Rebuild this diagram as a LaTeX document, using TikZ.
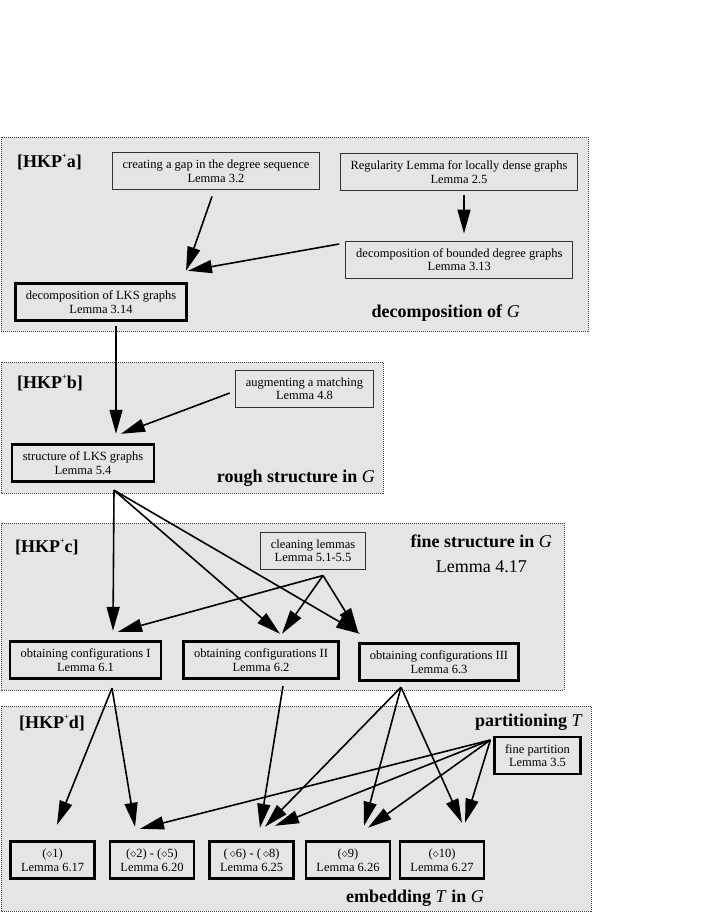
\documentclass[tikz,border=0pt]{standalone}
\usepackage{fontspec}
\setmainfont{Liberation Serif}
\usetikzlibrary{arrows.meta}

\newcommand{\boxfont}{\fontsize{12.5}{13.5}\selectfont}
\newcommand{\titlefont}{\fontsize{18}{20}\selectfont\bfseries}
\newcommand{\hkp}[1]{[HKP\raisebox{0.5em}{\fontsize{8}{8}\selectfont +}#1]}
\newcommand{\dia}[1]{($\diamond$#1)}

\tikzset{
	panel/.style={draw=black!75, fill=gray!20, line width=0.8pt, dash pattern=on 1pt off 1pt},
	thinbox/.style={draw=black!80, fill=gray!20, line width=1pt, align=center, minimum height=37pt, inner xsep=10.5pt, inner ysep=2pt, font=\boxfont},
	thickbox/.style={thinbox, draw=black, line width=2.4pt},
	title/.style={inner sep=0pt, font=\titlefont},
	arr/.style={line width=1.6pt, -{Triangle[length=24pt 0, width=13pt 0]}},
}

\begin{document}
\begin{tikzpicture}[x=1pt, y=-1pt]
			\useasboundingbox (0,0) rectangle (706,913);
			
			\draw[panel] (1,137) rectangle (588,331);
			\draw[panel] (1,362) rectangle (383,493);
			\draw[panel] (1,523) rectangle (564,690);
			\draw[panel] (1,706) rectangle (591,911);
			
			\node[title, anchor=base west] (ta) at (17,167) {\hkp{a}};
			\node[title, anchor=base east] (decG) at (520,317) {decomposition of \textnormal{\itshape G}};
			\node[title, anchor=base west] (tb) at (17,388) {\hkp{b}};
			\node[title, anchor=base east] (roughG) at (375,482) {rough structure in \textnormal{\itshape G}};
			\node[title, anchor=base west] (tc) at (15,552) {\hkp{c}};
			\node[title, anchor=base east] (fineG) at (552,547) {fine structure in \textnormal{\itshape G}};
			\node[inner sep=0pt, anchor=base east, font=\fontsize{18}{20}\selectfont] (l417) at (527,572) {Lemma 4.17};
			\node[title, anchor=base west] (td) at (19,728) {\hkp{d}};
			\node[title, anchor=base east] (partT) at (583,726) {partitioning \textnormal{\itshape T}};
			\node[title, anchor=base east] (embT) at (484,902) {embedding \textnormal{\itshape T} in \textnormal{\itshape G}};
			
			\node[thinbox] (gap) at (216,171) {creating a gap in the degree sequence\\Lemma 3.2};
			\node[thinbox] (regular) at (459,172) {Regularity Lemma for locally dense graphs\\Lemma 2.5};
			\node[thinbox] (bounded) at (459.3,259.5) {decomposition of bounded degree graphs\\Lemma 3.13};
			\node[thickbox] (lks) at (101,302) {decomposition of LKS graphs\\Lemma 3.14};
			
			\node[thinbox] (augment) at (304.5,388.5) {augmenting a matching\\Lemma 4.8};
			\node[thickbox] (structure) at (83,463) {structure of LKS graphs\\Lemma 5.4};
			
			\node[thinbox] (cleaning) at (313,550.5) {cleaning lemmas\\Lemma 5.1-5.5};
			\node[thickbox] (conf1) at (85.5,660) {obtaining configurations I\\Lemma 6.1};
			\node[thickbox] (conf2) at (261,660) {obtaining configurations II\\Lemma 6.2};
			\node[thickbox] (conf3) at (439,662) {obtaining configurations III\\Lemma 6.3};
			
			\node[thickbox] (fine) at (537.5,755.5) {fine partition\\Lemma 3.5};
			\node[thickbox] (d1) at (52.6,860) {\dia{1}\\Lemma 6.17};
			\node[thickbox] (d2) at (152,860) {\dia{2} - \dia{5}\\Lemma 6.20};
			\node[thickbox] (d6) at (251.6,860) {(\,$\diamond$6) - (\,$\diamond$8)\\Lemma 6.25};
			\node[thickbox] (d9) at (348,860) {\dia{9}\\Lemma 6.26};
			\node[thickbox] (d10) at (442,860) {\dia{10}\\Lemma 6.27};
			
			\draw[arr] ([shift={(-4,6.5)}]gap.south) to ([shift={(85,-11.5)}]lks.north);
			\draw[arr] ([shift={(5,3.5)}]regular.south) to ([shift={(4.7,-7)}]bounded.north);
			\draw[arr] ([shift={(-6,-15.5)}]bounded.west) to ([shift={(87,-11.5)}]lks.north);
			
			\draw[arr] ([shift={(15,4.5)}]lks.south) to ([shift={(33,-9.5)}]structure.north);
			\draw[arr] ([shift={(-5,4.5)}]augment.west) to ([shift={(38,-9.5)}]structure.north);
			
			\draw[arr] ([shift={(31,7.5)}]structure.south) to ([shift={(27.5,-9.5)}]conf1.north);
			\draw[arr] ([shift={(31,7.5)}]structure.south) to ([shift={(19,-6.5)}]conf2.north);
			\draw[arr] ([shift={(31,7.5)}]structure.south) to ([shift={(-79,-8.5)}]conf3.north);
			\draw[arr] ([shift={(10,6)}]cleaning.south) to ([shift={(32.5,-8.5)}]conf1.north);
			\draw[arr] ([shift={(10,6)}]cleaning.south) to ([shift={(21,-6.5)}]conf2.north);
			\draw[arr] ([shift={(10,6)}]cleaning.south) to ([shift={(-81,-10.5)}]conf3.north);
			
			\draw[arr] ([shift={(26.5,8.5)}]conf1.south) to ([shift={(4.4,-15.5)}]d1.north);
			\draw[arr] ([shift={(26.5,8.5)}]conf1.south) to ([shift={(-17,-13.5)}]d2.north);
			\draw[arr] ([shift={(22,6.5)}]conf2.south) to ([shift={(8.4,-12.5)}]d6.north);
			\draw[arr] ([shift={(-38,5.5)}]conf3.south) to ([shift={(13.4,-13.5)}]d6.north);
			\draw[arr] ([shift={(-38,5.5)}]conf3.south) to ([shift={(16,-14.5)}]d9.north);
			\draw[arr] ([shift={(-38,5.5)}]conf3.south) to ([shift={(20,-17.5)}]d10.north);
			\draw[arr] ([shift={(-3,-15.5)}]fine.west) to ([shift={(-12,-11.5)}]d2.north);
			\draw[arr] ([shift={(-3,-15.5)}]fine.west) to ([shift={(23.4,-14.5)}]d6.north);
			\draw[arr] ([shift={(-3,-15.5)}]fine.west) to ([shift={(20,-12.5)}]d9.north);
			\draw[arr] ([shift={(-3,-15.5)}]fine.west) to ([shift={(23,-17.5)}]d10.north);
		\end{tikzpicture}
\end{document}
